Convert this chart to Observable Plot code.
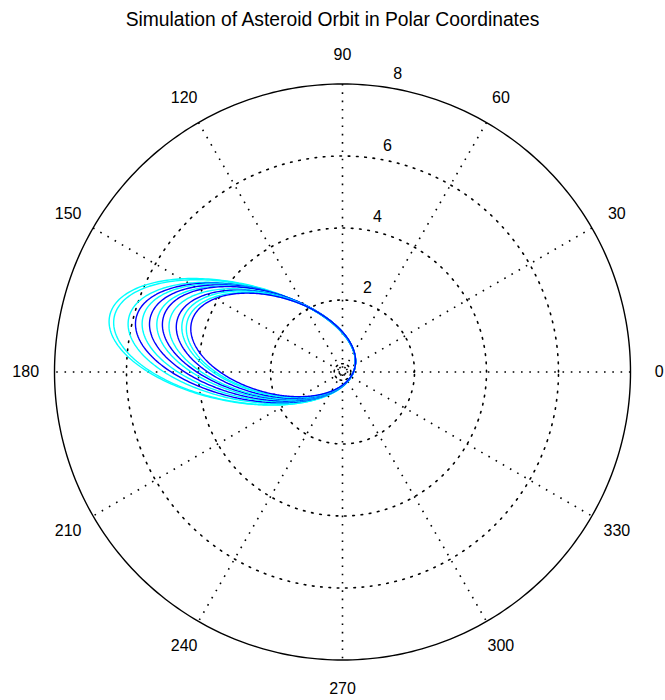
<!DOCTYPE html>
<html>
<head>
<meta charset="utf-8">
<script src="https://cdn.jsdelivr.net/npm/d3@7"></script>
<script src="https://cdn.jsdelivr.net/npm/@observablehq/plot@0.6"></script>
<style>
  html, body { margin: 0; padding: 0; background: #fff; }
  #title { width: 665px; height: 40px; line-height: 40px; text-align: center;
           font-family: "Liberation Sans", Arial, sans-serif; font-size: 19.3px; color: #000; }
  #chart svg { display: block; overflow: visible; }
</style>
</head>
<body>
<div id="title">Simulation of Asteroid Orbit in Polar Coordinates</div>
<div id="chart"></div>
<script>
// ---- data ----
const titleText = "Simulation of Asteroid Orbit in Polar Coordinates";
const rMax = 8;
const ringValues = [2, 4, 6];            // dotted grid rings
const ringLabelValues = [2, 4, 6, 8];    // radial tick labels
const spokeAngles = [0, 30, 60, 90, 120, 150]; // dotted spokes (through centre)
const angleLabels = [0, 30, 60, 90, 120, 150, 180, 210, 240, 270, 300, 330];
const sunRadius = 0.23;                  // small dotted circle at origin

// successive asteroid orbits (outer -> inner): apoapsis distance, periapsis distance,
// apoapsis direction (deg) measured from the orbit focus, colour
const orbitApo   = [6.55, 6.42, 6.02, 5.82, 5.64, 5.44, 5.24, 5.09, 4.9, 4.7, 4.55, 4.42, 4.3];
const orbitPeri  = [0.41, 0.41, 0.41, 0.41, 0.41, 0.41, 0.41, 0.41, 0.41, 0.41, 0.41, 0.41, 0.41];
const orbitArg   = [168, 168, 167.5, 167, 166.5, 166, 165.5, 165, 165, 164.5, 164, 164, 163.5];
const orbitColor = ["cyan","cyan","cyan","blue","cyan","blue","cyan","blue","cyan","blue","cyan","cyan","blue"];
const orbitFocusX = -0.06;               // focus sits slightly above the origin
const orbitFocusY = 0.2;

// ---- build tables ----
const rad = Math.PI / 180;
const circlePts = (r, id) => d3.range(0, 361, 1).map(a => ({id, x: r * Math.cos(a * rad), y: r * Math.sin(a * rad)}));
const ringPts = ringValues.flatMap(r => circlePts(r, "r" + r));
const outerPts = circlePts(rMax, "outer");
const sunPts = circlePts(sunRadius, "sun");
const spokes = spokeAngles.map(a => ({
  x1: rMax * Math.cos(a * rad), y1: rMax * Math.sin(a * rad),
  x2: -rMax * Math.cos(a * rad), y2: -rMax * Math.sin(a * rad)
}));
const orbitPts = orbitApo.flatMap((ra, i) => {
  const rp = orbitPeri[i];
  const e = (ra - rp) / (ra + rp);
  const p = 2 * ra * rp / (ra + rp);
  const thp = (orbitArg[i] + 180) * rad;
  return d3.range(0, 361, 0.5).map(a => {
    const t = a * rad;
    const r = p / (1 + e * Math.cos(t - thp));
    return {id: i, color: orbitColor[i], x: orbitFocusX + r * Math.cos(t), y: orbitFocusY + r * Math.sin(t)};
  });
});
const angleLabelData = angleLabels.map(a => ({
  label: String(a), x: rMax * 1.1 * Math.cos(a * rad), y: rMax * 1.1 * Math.sin(a * rad)
}));
const ringLabelData = ringLabelValues.map(v => ({
  label: String(v), x: v * Math.cos(82 * rad), y: v * Math.sin(82 * rad)
}));

const font = "Liberation Sans, Arial, sans-serif";
const dots = "1.6 6.7";

const chart = Plot.plot({
  width: 665,
  height: 660,
  style: {background: "white", fontFamily: font},
  x: {domain: [-rMax, rMax], range: [54, 630], axis: null},
  y: {domain: [-rMax, rMax], range: [619.5, 43.5], axis: null},
  marks: [
    Plot.line(ringPts, {x: "x", y: "y", z: "id", stroke: "black", strokeWidth: 1.6, strokeDasharray: dots}),
    Plot.line(sunPts, {x: "x", y: "y", z: "id", stroke: "black", strokeWidth: 1.6, strokeDasharray: "1.6 4.5"}),
    Plot.link(spokes, {x1: "x1", y1: "y1", x2: "x2", y2: "y2", stroke: "black", strokeWidth: 1.6, strokeDasharray: dots}),
    Plot.line(outerPts, {x: "x", y: "y", z: "id", stroke: "black", strokeWidth: 1.4}),
    Plot.line(orbitPts, {x: "x", y: "y", z: "id", stroke: "color", strokeWidth: 1.4}),
    Plot.text(angleLabelData, {x: "x", y: "y", text: "label", fontSize: 16, fill: "black", textAnchor: "middle"}),
    Plot.text(ringLabelData, {x: "x", y: "y", text: "label", fontSize: 16, fill: "black", textAnchor: "middle", dx: 15, dy: -12.5})
  ]
});
document.getElementById("chart").appendChild(chart);
</script>
</body>
</html>
